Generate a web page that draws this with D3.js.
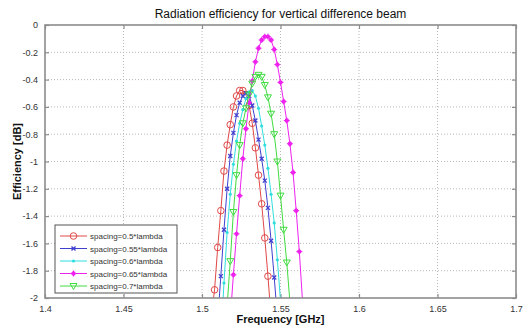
<!DOCTYPE html>
<html>
<head>
<meta charset="utf-8">
<script src="https://cdn.jsdelivr.net/npm/d3@7"></script>
<style>
  html, body { margin: 0; padding: 0; background: #fff; }
  svg { display: block; }
  text { font-family: "Liberation Sans", Arial, sans-serif; }
</style>
</head>
<body>
<div id="chart"></div>
<script>
// Radiation efficiency (dB) versus frequency (GHz) for five element spacings
const freq05  = [1.506, 1.508, 1.510, 1.512, 1.514, 1.516, 1.518, 1.520, 1.522, 1.524, 1.526, 1.528, 1.530, 1.532, 1.534, 1.536, 1.538, 1.540, 1.542, 1.544];
const eff05   = [-2.13, -1.94, -1.63, -1.36, -1.07, -0.88, -0.73, -0.60, -0.52, -0.48, -0.48, -0.51, -0.59, -0.72, -0.90, -1.10, -1.31, -1.56, -1.84, -2.14];

const freq055 = [1.510, 1.512, 1.514, 1.516, 1.518, 1.520, 1.522, 1.524, 1.526, 1.528, 1.530, 1.532, 1.534, 1.536, 1.538, 1.540, 1.542, 1.544, 1.546, 1.548];
const eff055  = [-2.16, -1.84, -1.50, -1.20, -0.96, -0.79, -0.66, -0.57, -0.52, -0.50, -0.52, -0.59, -0.70, -0.84, -0.98, -1.14, -1.34, -1.58, -1.85, -2.14];

const freq06  = [1.512, 1.514, 1.516, 1.518, 1.520, 1.522, 1.524, 1.526, 1.528, 1.530, 1.532, 1.534, 1.536, 1.538, 1.540, 1.542, 1.544, 1.546, 1.548, 1.550, 1.552];
const eff06   = [-2.30, -1.89, -1.52, -1.24, -1.02, -0.85, -0.72, -0.62, -0.54, -0.49, -0.48, -0.52, -0.61, -0.74, -0.88, -1.05, -1.24, -1.45, -1.72, -2.02, -2.32];

const freq065 = [1.516, 1.518, 1.520, 1.522, 1.524, 1.526, 1.528, 1.530, 1.532, 1.534, 1.536, 1.538, 1.540, 1.542, 1.544, 1.546, 1.548, 1.550, 1.552, 1.554, 1.556, 1.558, 1.560, 1.562, 1.564, 1.566];
const eff065  = [-2.45, -2.15, -1.83, -1.53, -1.25, -0.98, -0.76, -0.57, -0.41, -0.27, -0.17, -0.11, -0.085, -0.085, -0.11, -0.18, -0.29, -0.42, -0.56, -0.70, -0.87, -1.08, -1.36, -1.66, -2.02, -2.45];

const freq07  = [1.514, 1.516, 1.518, 1.520, 1.522, 1.524, 1.526, 1.528, 1.530, 1.532, 1.534, 1.536, 1.538, 1.540, 1.542, 1.544, 1.546, 1.548, 1.550, 1.552, 1.554, 1.556, 1.558];
const eff07   = [-2.40, -2.06, -1.73, -1.37, -1.10, -0.88, -0.72, -0.61, -0.51, -0.43, -0.38, -0.365, -0.38, -0.44, -0.53, -0.65, -0.80, -1.00, -1.25, -1.50, -1.74, -2.03, -2.32];

const seriesNames = ["spacing=0.5*lambda", "spacing=0.55*lambda", "spacing=0.6*lambda", "spacing=0.65*lambda", "spacing=0.7*lambda"];
const seriesColors = ["#e04848", "#4040d0", "#30dede", "#ee22ee", "#40dc40"];
const seriesMarkers = ["circle", "cross", "dot", "star", "triangle"];

const xTicks = [1.4, 1.45, 1.5, 1.55, 1.6, 1.65, 1.7];
const xTickLabels = ["1.4", "1.45", "1.5", "1.55", "1.6", "1.65", "1.7"];
const yTicks = [0, -0.2, -0.4, -0.6, -0.8, -1, -1.2, -1.4, -1.6, -1.8, -2];
const yTickLabels = ["0", "-0.2", "-0.4", "-0.6", "-0.8", "-1", "-1.2", "-1.4", "-1.6", "-1.8", "-2"];

const titleText = "Radiation efficiency for vertical difference beam";
const xLabelText = "Frequency [GHz]";
const yLabelText = "Efficiency [dB]";

const seriesFreqs = [freq05, freq055, freq06, freq065, freq07];
const seriesEffs = [eff05, eff055, eff06, eff065, eff07];
const series = seriesNames.map((name, i) => ({
  name,
  color: seriesColors[i],
  marker: seriesMarkers[i],
  points: seriesFreqs[i].map((f, j) => ({ f, e: seriesEffs[i][j] }))
}));

const W = 529, H = 331;
const margin = { left: 45, right: 13, top: 25, bottom: 33 };
const iw = W - margin.left - margin.right;
const ih = H - margin.top - margin.bottom;

const svg = d3.select("#chart").append("svg").attr("width", W).attr("height", H);
svg.append("rect").attr("width", W).attr("height", H).attr("fill", "#fff");

const x = d3.scaleLinear().domain([1.4, 1.7]).range([0, iw]);
const y = d3.scaleLinear().domain([-2, 0]).range([ih, 0]);

const g = svg.append("g").attr("transform", `translate(${margin.left},${margin.top})`);

svg.append("defs").append("clipPath").attr("id", "plotclip")
  .append("rect").attr("x", 0).attr("y", 0).attr("width", iw).attr("height", ih);

// dotted grid
const grid = g.append("g").attr("class", "grid");
grid.selectAll("line.vg").data(xTicks.slice(1, -1)).join("line")
  .attr("x1", d => x(d)).attr("x2", d => x(d)).attr("y1", 0).attr("y2", ih)
  .attr("stroke", "#b8b8b8").attr("stroke-width", 1).attr("stroke-dasharray", "1,2");
grid.selectAll("line.hg").data(yTicks.slice(1, -1)).join("line")
  .attr("x1", 0).attr("x2", iw).attr("y1", d => y(d)).attr("y2", d => y(d))
  .attr("stroke", "#b8b8b8").attr("stroke-width", 1).attr("stroke-dasharray", "1,2");

// axes with inward ticks on all four sides
const tickLen = 4;
const axisColor = "#8c8c8c";
const styleAxis = sel => {
  sel.select(".domain").remove();
  sel.selectAll(".tick line").attr("stroke", axisColor).attr("stroke-width", 1.2);
  sel.selectAll(".tick text").attr("fill", "#333").style("font-size", "9px")
    .style("font-family", "'Liberation Sans', Arial, sans-serif");
};
const xAxis = d3.axisBottom(x).tickValues(xTicks).tickFormat((d, i) => xTickLabels[i])
  .tickSizeInner(-tickLen).tickSizeOuter(0).tickPadding(8);
g.append("g").attr("transform", `translate(0,${ih})`).call(xAxis).call(styleAxis);
g.append("g").call(d3.axisTop(x).tickValues(xTicks).tickFormat("").tickSizeInner(-tickLen).tickSizeOuter(0)).call(styleAxis);

const yAxis = d3.axisLeft(y).tickValues(yTicks).tickFormat((d, i) => yTickLabels[i])
  .tickSizeInner(-tickLen).tickSizeOuter(0).tickPadding(7);
g.append("g").call(yAxis).call(styleAxis);
g.append("g").attr("transform", `translate(${iw},0)`)
  .call(d3.axisRight(y).tickValues(yTicks).tickFormat("").tickSizeInner(-tickLen).tickSizeOuter(0)).call(styleAxis);

// curves
const line = d3.line().x(d => x(d.f)).y(d => y(d.e));
const plot = g.append("g").attr("clip-path", "url(#plotclip)");

function drawMarker(sel, type, color, cx, cy) {
  if (type === "circle") {
    sel.append("circle").attr("cx", cx).attr("cy", cy).attr("r", 3.3)
      .attr("fill", "none").attr("stroke", color).attr("stroke-width", 1);
  } else if (type === "cross") {
    sel.append("path").attr("d", `M${cx - 2},${cy - 2}L${cx + 2},${cy + 2}M${cx - 2},${cy + 2}L${cx + 2},${cy - 2}`)
      .attr("stroke", color).attr("stroke-width", 1.3);
  } else if (type === "dot") {
    sel.append("circle").attr("cx", cx).attr("cy", cy).attr("r", 1.6).attr("fill", color);
  } else if (type === "star") {
    sel.append("circle").attr("cx", cx).attr("cy", cy).attr("r", 2.2).attr("fill", color);
    sel.append("path").attr("d", `M${cx - 3},${cy}L${cx + 3},${cy}M${cx},${cy - 3}L${cx},${cy + 3}`)
      .attr("stroke", color).attr("stroke-width", 1);
  } else if (type === "triangle") {
    sel.append("path").attr("d", `M${cx - 3.5},${cy - 2.5}L${cx + 3.5},${cy - 2.5}L${cx},${cy + 3.5}Z`)
      .attr("fill", "none").attr("stroke", color).attr("stroke-width", 1);
  }
}

series.forEach(s => {
  plot.append("path").datum(s.points).attr("d", line)
    .attr("fill", "none").attr("stroke", s.color).attr("stroke-width", 1);
  const mg = plot.append("g");
  s.points.forEach(p => drawMarker(mg, s.marker, s.color, x(p.f), y(p.e)));
});

// axes box
g.append("rect").attr("x", 0).attr("y", 0).attr("width", iw).attr("height", ih)
  .attr("fill", "none").attr("stroke", axisColor).attr("stroke-width", 1.6);

// legend
const lg = g.append("g").attr("transform", `translate(${55 - margin.left},${225 - margin.top})`);
lg.append("rect").attr("x", 0).attr("y", 0).attr("width", 122).attr("height", 68)
  .attr("fill", "#fff").attr("stroke", "#555").attr("stroke-width", 1);
series.forEach((s, i) => {
  const ly = 11 + i * 12.5;
  lg.append("line").attr("x1", 5).attr("x2", 32).attr("y1", ly).attr("y2", ly)
    .attr("stroke", s.color).attr("stroke-width", 1);
  drawMarker(lg, s.marker, s.color, 18.5, ly);
  lg.append("text").attr("x", 35).attr("y", ly + 3).attr("fill", "#333")
    .style("font-size", "8px").text(s.name);
});

// titles
svg.append("text").attr("x", margin.left + iw / 2).attr("y", 18).attr("text-anchor", "middle")
  .attr("fill", "#111").style("font-size", "12px").text(titleText);
svg.append("text").attr("x", margin.left + iw / 2).attr("y", 323).attr("text-anchor", "middle")
  .attr("fill", "#111").style("font-size", "11px").style("font-weight", "bold").text(xLabelText);
svg.append("text").attr("transform", `translate(21,${margin.top + ih / 2}) rotate(-90)`)
  .attr("text-anchor", "middle").attr("fill", "#111").style("font-size", "11px")
  .style("font-weight", "bold").text(yLabelText);
</script>
</body>
</html>
